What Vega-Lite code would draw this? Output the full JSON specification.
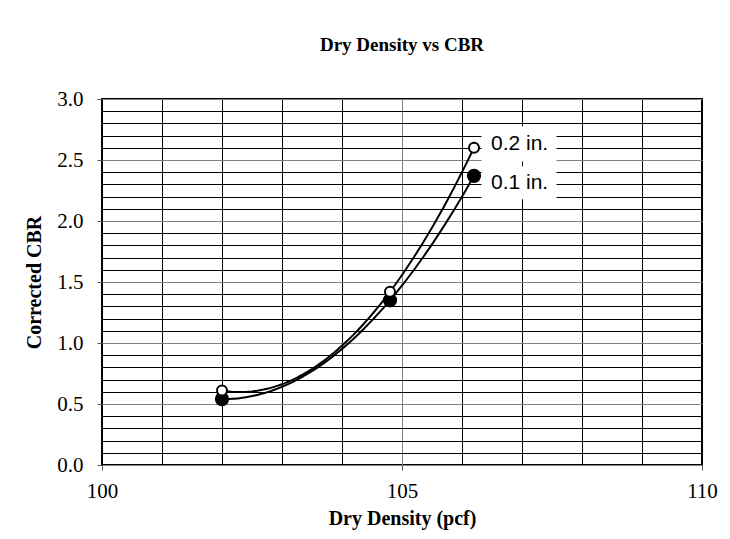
{
  "$schema": "https://vega.github.io/schema/vega-lite/v6.json",
  "autosize": {"type": "none"},
  "width": 600,
  "height": 366,
  "padding": {"left": 102, "top": 99, "right": 28, "bottom": 74},
  "background": "white",
  "title": {"text": "Dry Density vs CBR", "font": "Liberation Serif", "fontSize": 19, "fontWeight": "bold", "color": "black", "anchor": "middle", "offset": 33},
  "config": {
    "view": {"stroke": "black", "strokeWidth": 2},
    "axis": {"labelFont": "Liberation Serif", "labelFontSize": 21, "labelColor": "black", "titleFont": "Liberation Serif", "titleFontSize": 20, "titleFontWeight": "bold", "titleColor": "black", "domain": false, "gridOpacity": 1, "gridWidth": 1, "tickColor": "#555555", "tickWidth": 1, "tickSize": 5, "labelOverlap": false, "labelFlush": false, "labelBound": false}
  },
  "data": {"values": [
    {"density": 102, "cbr": 0.54, "series": "0.1 in."},
    {"density": 104.8, "cbr": 1.35, "series": "0.1 in."},
    {"density": 106.2, "cbr": 2.37, "series": "0.1 in."},
    {"density": 102, "cbr": 0.61, "series": "0.2 in."},
    {"density": 104.8, "cbr": 1.42, "series": "0.2 in."},
    {"density": 106.2, "cbr": 2.60, "series": "0.2 in."}
  ]},
  "encoding": {
    "x": {"field": "density", "type": "quantitative", "scale": {"domain": [100, 110], "nice": false, "zero": false},
      "axis": {"title": "Dry Density (pcf)", "values": [100,101,102,103,104,105,106,107,108,109,110],
        "gridColor": {"condition": {"test": "datum.value == 105", "value": "#808080"}, "value": "#000000"},
        "tickOpacity": {"condition": {"test": "datum.value % 5 == 0", "value": 1}, "value": 0},
        "labelExpr": "datum.value % 5 == 0 ? format(datum.value, 'd') : ''",
        "labelPadding": 10, "titlePadding": 7}},
    "y": {"field": "cbr", "type": "quantitative", "scale": {"domain": [0, 3], "nice": false},
      "axis": {"title": "Corrected CBR", "values": [0,0.1,0.2,0.3,0.4,0.5,0.6,0.7,0.8,0.9,1,1.1,1.2,1.3,1.4,1.5,1.6,1.7,1.8,1.9,2,2.1,2.2,2.3,2.4,2.5,2.6,2.7,2.8,2.9,3],
        "gridColor": {"condition": {"test": "abs(datum.value*2 - round(datum.value*2)) < 0.001", "value": "#808080"}, "value": "#000000"},
        "tickOpacity": {"condition": {"test": "abs(datum.value*2 - round(datum.value*2)) < 0.001", "value": 1}, "value": 0},
        "labelExpr": "abs(datum.value*2 - round(datum.value*2)) < 0.001 ? format(datum.value, '.1f') : ''",
        "labelPadding": 14, "titlePadding": 12}}
  },
  "layer": [
    {
      "transform": [{"filter": "datum.density > 106 && datum.series == '0.2 in.'"}],
      "mark": {"type": "point", "shape": "M-1,-0.47H1V0.47H-1Z", "filled": true, "fill": "white", "opacity": 1, "size": 5625, "xOffset": 45, "yOffset": -4}
    },
    {
      "transform": [{"filter": "datum.density > 106 && datum.series == '0.1 in.'"}],
      "mark": {"type": "point", "shape": "M-1,-0.44H1V0.44H-1Z", "filled": true, "fill": "white", "opacity": 1, "size": 5625, "xOffset": 45, "yOffset": 7}
    },
    {
      "transform": [{"regression": "cbr", "on": "density", "groupby": ["series"], "method": "poly", "order": 2, "extent": [102, 106.2]}],
      "mark": {"type": "line", "color": "black", "strokeWidth": 2},
      "encoding": {"detail": {"field": "series"}}
    },
    {
      "transform": [{"filter": "datum.series == '0.1 in.'"}],
      "mark": {"type": "point", "shape": "circle", "filled": true, "fill": "black", "stroke": "black", "opacity": 1, "size": 150}
    },
    {
      "transform": [{"filter": "datum.series == '0.2 in.'"}],
      "mark": {"type": "point", "shape": "circle", "filled": false, "fill": "white", "fillOpacity": 1, "stroke": "black", "strokeWidth": 2, "opacity": 1, "size": 100}
    },
    {
      "transform": [{"filter": "datum.density > 106 && datum.series == '0.2 in.'"}],
      "mark": {"type": "text", "align": "left", "baseline": "middle", "dx": 17, "dy": -4, "font": "Liberation Sans", "fontSize": 21, "color": "black"},
      "encoding": {"text": {"field": "series"}}
    },
    {
      "transform": [{"filter": "datum.density > 106 && datum.series == '0.1 in.'"}],
      "mark": {"type": "text", "align": "left", "baseline": "middle", "dx": 17, "dy": 7, "font": "Liberation Sans", "fontSize": 21, "color": "black"},
      "encoding": {"text": {"field": "series"}}
    }
  ]
}
